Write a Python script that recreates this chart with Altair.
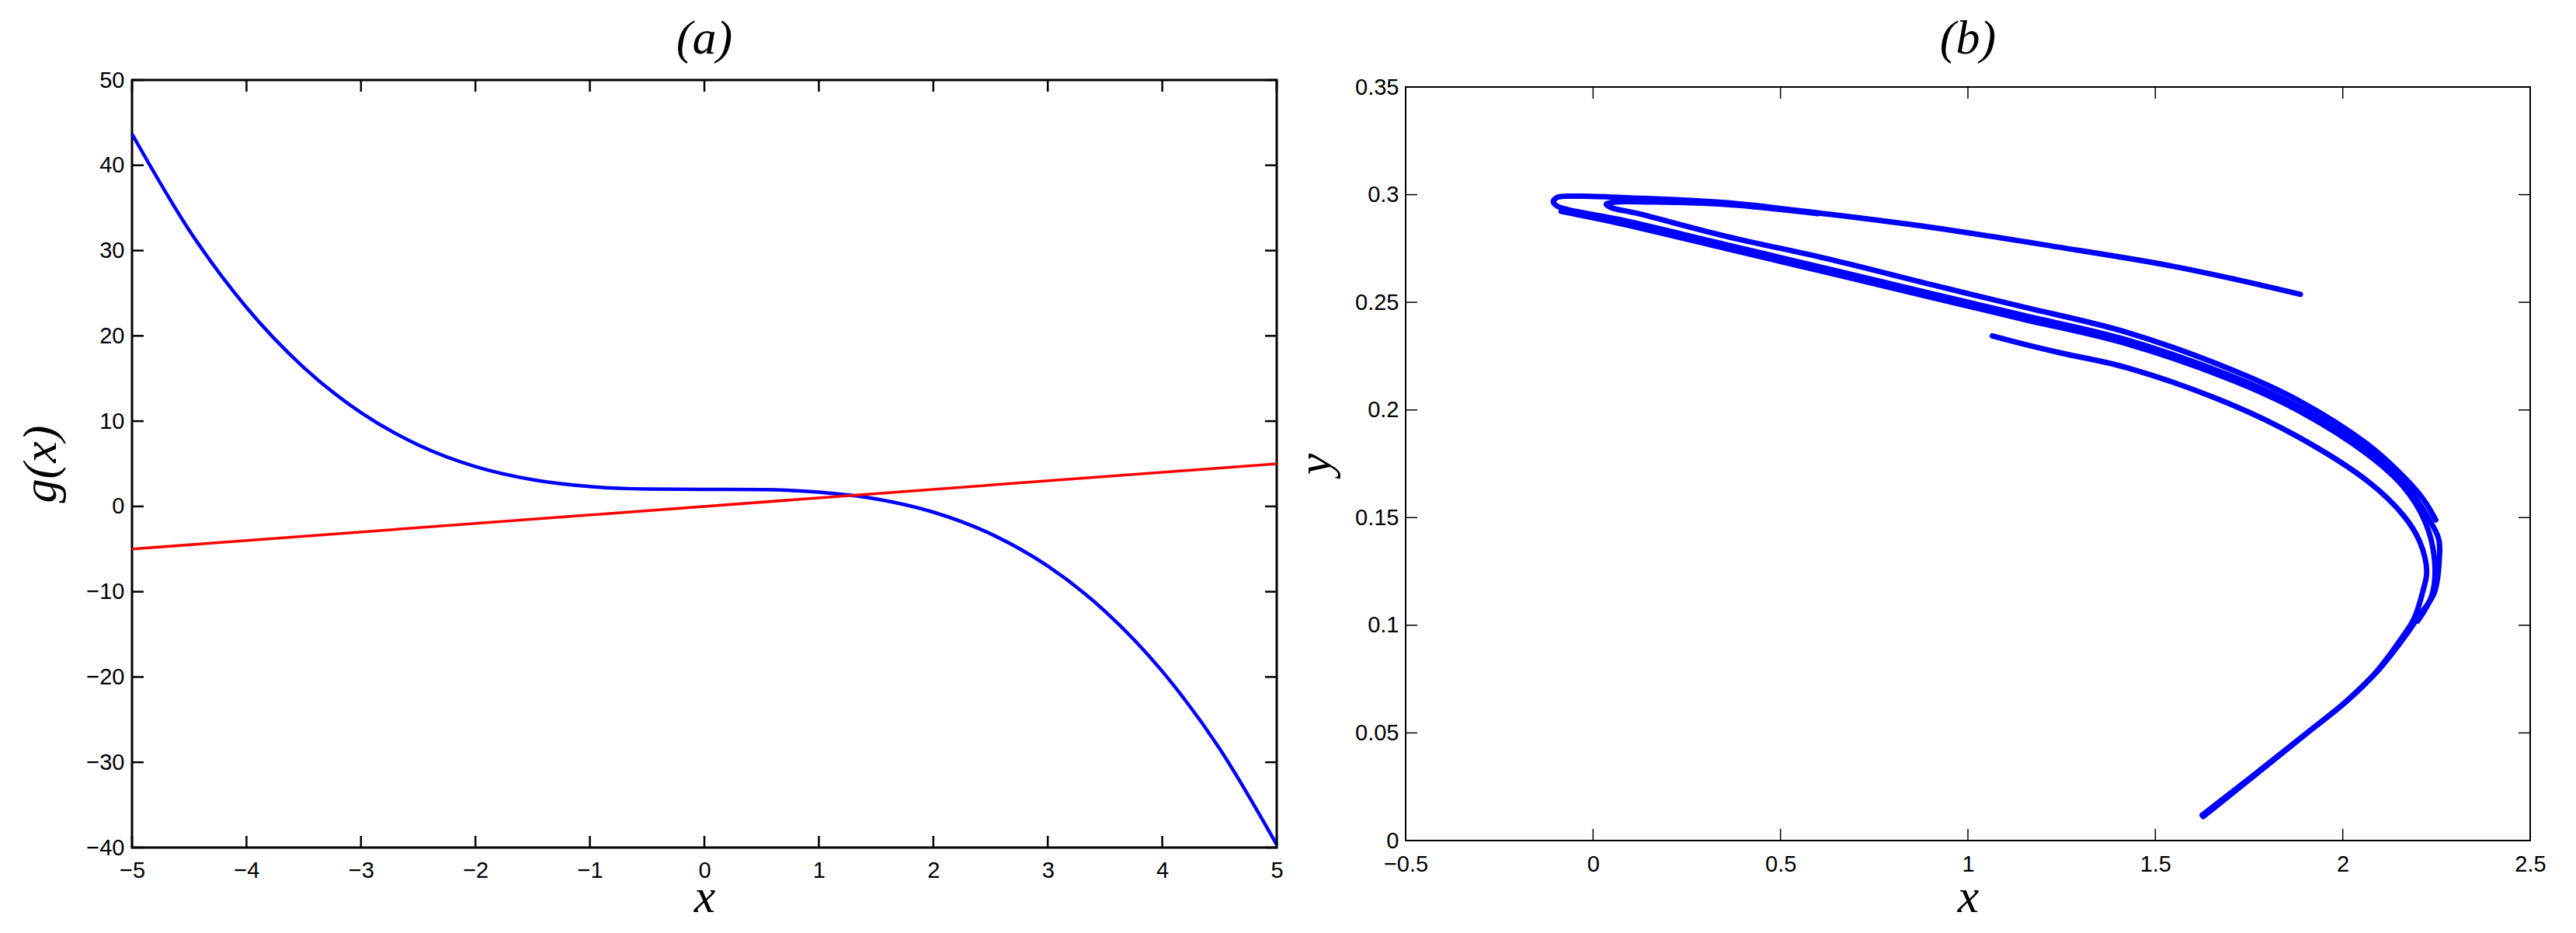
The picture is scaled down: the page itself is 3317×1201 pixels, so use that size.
import altair as alt
import pandas as pd

# ---------------- Panel (a) data ----------------
ga_x = [-5.0, -4.5, -4.0, -3.5, -3.0, -2.5, -2.0, -1.5, -1.0, -0.5, 0.0,
        0.5, 1.0, 1.5, 2.0, 2.5, 3.0, 3.5, 4.0, 4.5, 5.0]
ga_y = [43.67, 32.38, 23.33, 16.29, 11.0, 7.21, 4.67, 3.13, 2.33, 2.04, 2.0,
        1.96, 1.67, 0.88, -0.67, -3.21, -7.0, -12.29, -19.33, -28.38, -39.67]
red_x = [-5.0, 5.0]
red_y = [-5.0, 5.0]

a_xticks = [-5, -4, -3, -2, -1, 0, 1, 2, 3, 4, 5]
a_yticks = [-40, -30, -20, -10, 0, 10, 20, 30, 40, 50]

# ---------------- Panel (b) data (strands of the attractor) ----------------
s1_x = [1.887, 1.700, 1.514, 1.239, 0.907, 0.630, 0.352, 0.100, -0.040, -0.095, -0.106,
        -0.095, 0.075, 0.352, 0.630, 0.907, 1.144, 1.421, 1.699, 1.883, 2.068, 2.161,
        2.228, 2.256, 2.258, 2.244, 2.200, 2.173, 2.097, 2.012, 1.910, 1.765, 1.625]
s1_y = [0.2537, 0.2612, 0.2678, 0.2757, 0.2847, 0.2909, 0.2963, 0.2985, 0.2993, 0.2988, 0.2968,
        0.2946, 0.2883, 0.2769, 0.2654, 0.2539, 0.2441, 0.2327, 0.2160, 0.2015, 0.1810, 0.1665,
        0.1500, 0.1400, 0.1320, 0.1150, 0.1035, 0.0965, 0.0795, 0.0650, 0.0507, 0.0308, 0.0118]

s2_x = [-0.085, 0.075, 0.352, 0.630, 0.907, 1.144, 1.421, 1.699, 1.883, 2.068, 2.161,
        2.220, 2.245, 2.238, 2.200]
s2_y = [0.2922, 0.2865, 0.2751, 0.2636, 0.2521, 0.2423, 0.2309, 0.2142, 0.1996, 0.1792, 0.1645,
        0.1480, 0.1300, 0.1140, 0.1020]

s3_x = [0.600, 0.350, 0.150, 0.060, 0.035, 0.048, 0.120, 0.352, 0.630, 0.907, 1.144,
        1.421, 1.699, 1.883, 2.068, 2.161, 2.215, 2.248]
s3_y = [0.2912, 0.2955, 0.2966, 0.2966, 0.2955, 0.2940, 0.2912, 0.2808, 0.2700, 0.2580, 0.2480,
        0.2362, 0.2190, 0.2043, 0.1838, 0.1692, 0.1585, 0.1490]

s4_x = [1.065, 1.144, 1.247, 1.421, 1.699, 1.883, 2.068, 2.161, 2.205, 2.224, 2.214, 2.190,
        2.163, 2.090, 2.005, 1.903, 1.760, 1.628]
s4_y = [0.2344, 0.2308, 0.2265, 0.2198, 0.2028, 0.1873, 0.1667, 0.1512, 0.1390, 0.1250, 0.1160,
        0.1030, 0.0955, 0.0785, 0.0640, 0.0497, 0.0296, 0.0112]

b_xticks = [-0.5, 0, 0.5, 1, 1.5, 2, 2.5]
b_yticks = [0, 0.05, 0.1, 0.15, 0.2, 0.25, 0.3, 0.35]

# ---------------- layout constants ----------------
WA, HA = 1474, 988
WB, HB = 1448, 970
TICK = 15
LABEL_FONT = "Liberation Sans"
MATH_FONT = "Liberation Serif"


def make_axis(values, title, orient, label_pad, title_pad):
    kw = dict(values=values, format="~r", grid=False, domain=False, ticks=False, tickSize=0,
              labelFont=LABEL_FONT, labelFontSize=29, labelColor="black",
              labelPadding=label_pad, labelFlush=False, labelOverlap=False, labelBound=False,
              title=title, titleFont=MATH_FONT, titleFontStyle="italic", titleFontSize=62,
              titleFontWeight="normal", titleColor="black", titlePadding=title_pad)
    if orient == "bottom":
        kw["titleBaseline"] = "alphabetic"
    return alt.Axis(**kw)


def tick_layers(xvals, yvals, xs, ys, xax, yax, W, H, sw):
    dx = pd.DataFrame({"t": xvals})
    dy = pd.DataFrame({"t": yvals})
    base_x = alt.Chart(dx).mark_rule(color="black", strokeWidth=sw)
    base_y = alt.Chart(dy).mark_rule(color="black", strokeWidth=sw)
    bottom = base_x.encode(x=alt.X("t:Q", scale=xs, axis=xax),
                           y=alt.value(H), y2=alt.value(H - TICK))
    top = base_x.encode(x=alt.X("t:Q", scale=xs, axis=xax),
                        y=alt.value(0), y2=alt.value(TICK))
    left = base_y.encode(y=alt.Y("t:Q", scale=ys, axis=yax),
                         x=alt.value(0), x2=alt.value(TICK))
    right = base_y.encode(y=alt.Y("t:Q", scale=ys, axis=yax),
                          x=alt.value(W), x2=alt.value(W - TICK))
    return [bottom, top, left, right]


# ---------------- Panel (a) ----------------
xs_a = alt.Scale(domain=[-5, 5], nice=False, zero=False)
ys_a = alt.Scale(domain=[-40, 50], nice=False, zero=False)
xax_a = make_axis(a_xticks, "x", "bottom", 15, 38)
yax_a = make_axis(a_yticks, "g(x)", "left", 10, 26)

df_blue = pd.DataFrame({"x": ga_x, "y": ga_y})
df_red = pd.DataFrame({"x": red_x, "y": red_y})

blue_a = alt.Chart(df_blue).mark_line(color="#0000ff", strokeWidth=4.5, interpolate="monotone").encode(
    x=alt.X("x:Q", scale=xs_a, axis=xax_a),
    y=alt.Y("y:Q", scale=ys_a, axis=yax_a),
)
red_a = alt.Chart(df_red).mark_line(color="#ff0000", strokeWidth=3.5).encode(
    x=alt.X("x:Q", scale=xs_a, axis=xax_a),
    y=alt.Y("y:Q", scale=ys_a, axis=yax_a),
)

panel_a = alt.layer(blue_a, red_a,
                    *tick_layers(a_xticks, a_yticks, xs_a, ys_a, xax_a, yax_a, WA, HA, 2.5)).properties(
    width=WA, height=HA,
    title=alt.TitleParams(text="(a)", font=MATH_FONT, fontStyle="italic", fontSize=62,
                          fontWeight="normal", color="black", baseline="alphabetic",
                          offset=-42, anchor="middle"),
    view=alt.ViewBackground(stroke="black", strokeWidth=3, fill="white"),
)

# ---------------- Panel (b) ----------------
xs_b = alt.Scale(domain=[-0.5, 2.5], nice=False, zero=False)
ys_b = alt.Scale(domain=[0, 0.35], nice=False, zero=False)
xax_b = make_axis(b_xticks, "x", "bottom", 16, 46)
yax_b = make_axis(b_yticks, "y", "left", 9, 19)

rows = []
for name, xs_l, ys_l in [("s1", s1_x, s1_y), ("s2", s2_x, s2_y), ("s3", s3_x, s3_y), ("s4", s4_x, s4_y)]:
    for i, (xv, yv) in enumerate(zip(xs_l, ys_l)):
        rows.append({"strand": name, "i": i, "x": xv, "y": yv})
df_b = pd.DataFrame(rows)

lines_b = alt.Chart(df_b).mark_line(color="#0000ff", strokeWidth=7, interpolate="catmull-rom",
                                    strokeCap="round", strokeJoin="round").encode(
    x=alt.X("x:Q", scale=xs_b, axis=xax_b),
    y=alt.Y("y:Q", scale=ys_b, axis=yax_b),
    detail="strand:N",
    order="i:Q",
)

panel_b = alt.layer(lines_b,
                    *tick_layers(b_xticks, b_yticks, xs_b, ys_b, xax_b, yax_b, WB, HB, 1.5)).properties(
    width=WB, height=HB,
    title=alt.TitleParams(text="(b)", font=MATH_FONT, fontStyle="italic", fontSize=62,
                          fontWeight="normal", color="black", baseline="alphabetic",
                          offset=-33, anchor="middle"),
    view=alt.ViewBackground(stroke="black", strokeWidth=2, fill="white"),
)

chart = alt.hconcat(panel_a, panel_b, spacing=166, bounds="flush", center=True).properties(
    padding={"left": 12, "top": 9, "right": 5, "bottom": 5},
    background="white",
)

chart.save("out.html", embed_options={"renderer": "svg", "actions": False})
